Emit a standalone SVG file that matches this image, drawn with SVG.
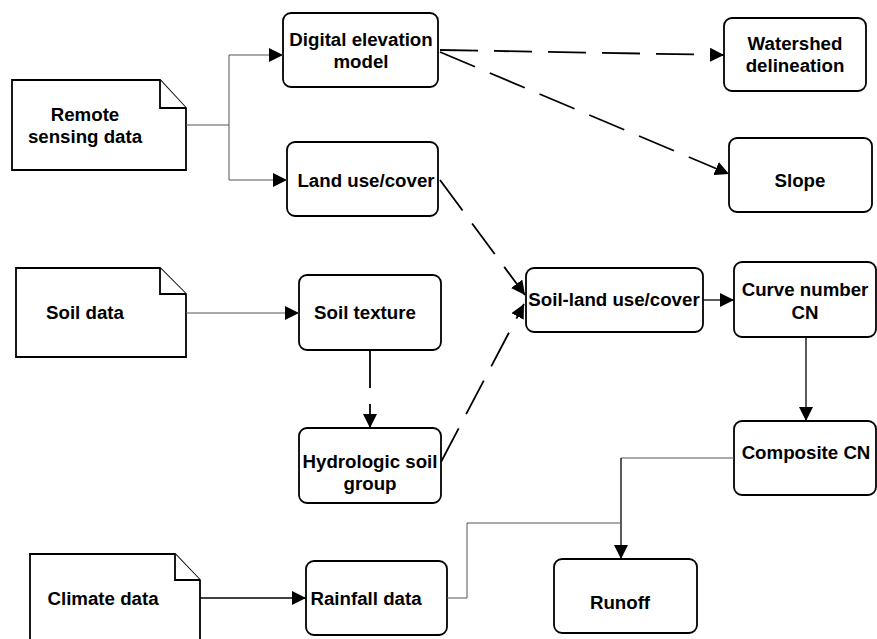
<svg xmlns="http://www.w3.org/2000/svg" width="877" height="639" viewBox="0 0 877 639">
<defs>
<style>
.box{fill:#fff;stroke:#000;stroke-width:1.8}
.doc{fill:#fff;stroke:#000;stroke-width:1.8}
.t{font-family:"Liberation Sans",Arial,sans-serif;font-weight:bold;font-size:18.7px;fill:#000;text-anchor:middle}
.thin{fill:none;stroke:#555;stroke-width:1}
.solid{fill:none;stroke:#000;stroke-width:1.3}
.dash{fill:none;stroke:#000;stroke-width:1.8;stroke-dasharray:38 16}
</style>
<marker id="ah" viewBox="0 0 10 10" refX="10" refY="5" markerWidth="14" markerHeight="14" markerUnits="userSpaceOnUse" orient="auto">
<path d="M0,0 L10,5 L0,10 z" fill="#000"/>
</marker>
</defs>
<rect width="877" height="639" fill="#fff"/>

<g id="remote-sensing">
<path class="doc" d="M12,80 H160 L186,108 V170 H12 Z"/>
<path class="doc" d="M160,80 V108 H186" fill="none"/>
<text class="t" x="85" y="121">Remote</text>
<text class="t" x="85" y="143">sensing data</text>
</g>
<g id="dem">
<rect class="box" x="283" y="13" width="155" height="74" rx="8"/>
<text class="t" x="361" y="46">Digital elevation</text>
<text class="t" x="361" y="68">model</text>
</g>
<g id="landuse">
<rect class="box" x="287" y="142" width="151" height="74" rx="8"/>
<text class="t" x="366" y="187">Land use/cover</text>
</g>
<g id="watershed">
<rect class="box" x="724" y="18" width="142" height="73" rx="8"/>
<text class="t" x="795" y="50">Watershed</text>
<text class="t" x="795" y="72">delineation</text>
</g>
<g id="slope">
<rect class="box" x="729" y="138" width="143" height="74" rx="8"/>
<text class="t" x="800" y="187">Slope</text>
</g>
<g id="soil-data">
<path class="doc" d="M16,268 H160 L186,294 V357 H16 Z"/>
<path class="doc" d="M160,268 V294 H186" fill="none"/>
<text class="t" x="85" y="319">Soil data</text>
</g>
<g id="soil-texture">
<rect class="box" x="299" y="275" width="142" height="75" rx="8"/>
<text class="t" x="365" y="319">Soil texture</text>
</g>
<g id="hsg">
<rect class="box" x="299" y="428" width="142" height="75" rx="8"/>
<text class="t" x="370" y="468">Hydrologic soil</text>
<text class="t" x="370" y="490">group</text>
</g>
<g id="soil-landuse">
<rect class="box" x="526" y="268" width="177" height="64" rx="8"/>
<text class="t" x="614" y="306">Soil-land use/cover</text>
</g>
<g id="curve-number">
<rect class="box" x="734" y="262" width="142" height="75" rx="8"/>
<text class="t" x="805" y="296">Curve number</text>
<text class="t" x="805" y="319">CN</text>
</g>
<g id="composite-cn">
<rect class="box" x="734" y="421" width="142" height="74" rx="8"/>
<text class="t" x="806" y="459">Composite CN</text>
</g>
<g id="climate-data">
<path class="doc" d="M30,554 H175 L200,580 V645 H30 Z"/>
<path class="doc" d="M175,554 V580 H200" fill="none"/>
<text class="t" x="103" y="605">Climate data</text>
</g>
<g id="rainfall">
<rect class="box" x="306" y="561" width="141" height="74" rx="8"/>
<text class="t" x="366" y="605">Rainfall data</text>
</g>
<g id="runoff">
<rect class="box" x="554" y="559" width="143" height="74" rx="8"/>
<text class="t" x="620" y="609">Runoff</text>
</g>

<g id="connectors">
<path class="thin" d="M186,125 H229 V55 H283" marker-end="url(#ah)"/>
<path class="thin" d="M229,125 V180 H287" marker-end="url(#ah)"/>
<path class="dash" d="M440,50 L724,55" marker-end="url(#ah)"/>
<path class="dash" d="M440,52 L729,174" marker-end="url(#ah)"/>
<path class="dash" d="M440,180 L525,295" marker-end="url(#ah)"/>
<path class="dash" d="M441,462 L524,304" marker-end="url(#ah)"/>
<path class="thin" d="M186,313 H299" marker-end="url(#ah)"/>
<path class="dash" d="M370,350 V428" stroke-dasharray="41 19" marker-end="url(#ah)"/>
<path class="solid" d="M703,300 H734" marker-end="url(#ah)"/>
<path class="solid" d="M806,337 V421" marker-end="url(#ah)"/>
<path class="thin" d="M734,458 H621"/>
<path class="solid" d="M621,458 V559" marker-end="url(#ah)"/>
<path class="thin" d="M447,598 H467 V523 H621"/>
<path class="solid" d="M200,598 H306" marker-end="url(#ah)"/>
</g>
</svg>
